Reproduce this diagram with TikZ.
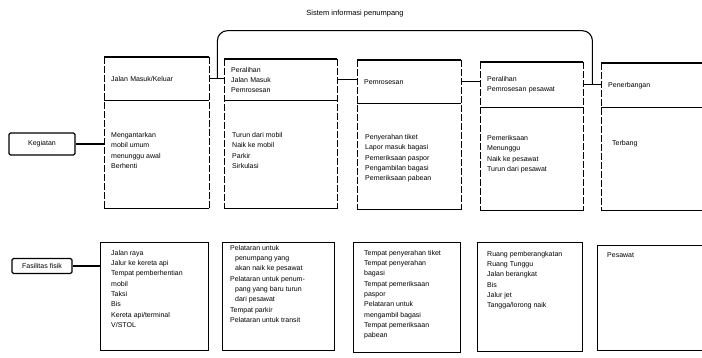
\documentclass[tikz,border=0pt]{standalone}
\usepackage{fontspec}
\setmainfont{Liberation Sans}
\usetikzlibrary{positioning}
\tikzset{
  header/.style={
    % The shape:
    rectangle, anchor=north west,
    % The size:
    inner xsep=7pt, inner ysep=0pt,
    % The text:
    align=left, font=\fontsize{7}{10}\selectfont},
  cell/.style={
    % The shape:
    rectangle, inner sep=0pt},
  footbox/.style={
    % The shape:
    rectangle, anchor=north west, inner sep=0pt,
    % The border:
    draw, line width=1.1pt},
  txt/.style={
    inner sep=0pt, align=left,
    font=\fontsize{7}{10.3}\selectfont},
  tag/.style={
    % The shape:
    rectangle, rounded corners=1.5pt,
    % The border:
    draw, line width=1.1pt,
    % The text:
    inner sep=0pt, font=\fontsize{7}{9}\selectfont}
}

\begin{document}
\begin{tikzpicture}[x=1pt,y=-1pt,
                    rule/.style={line width=1.1pt},
                    side/.style={line width=0.5pt,dash pattern=on 7pt off 2pt},
                    link/.style={line width=1.1pt}]
  \useasboundingbox (0,0) rectangle (702,358);

  \node[txt,font=\fontsize{7.5}{9}\selectfont] (title) at (355,14) {Sistem informasi penumpang};

  % top row: headers and activities
  \node[header, text width=91, minimum height=43] (head1) at (104,57)  {Jalan Masuk/Keluar};
  \node[header, text width=99, minimum height=41] (head2) at (224,59)  {Peralihan\\Jalan Masuk\\Pemrosesan};
  \node[header, text width=90, minimum height=43] (head3) at (357,60)  {Pemrosesan};
  \node[header, text width=89, minimum height=45] (head4) at (480,62)  {Peralihan\\Pemrosesan pesawat};
  \node[header, text width=105,minimum height=44] (head5) at (601,63)  {Penerbangan};

  \node[cell, below=0pt of head1, minimum width=105, minimum height=108] (body1) {};
  \node[cell, below=0pt of head2, minimum width=113, minimum height=108] (body2) {};
  \node[cell, below=0pt of head3, minimum width=104, minimum height=106] (body3) {};
  \node[cell, below=0pt of head4, minimum width=103, minimum height=103] (body4) {};
  \node[cell, below=0pt of head5, minimum width=119, minimum height=103] (body5) {};

  \foreach \c in {1,...,5} {
    \draw[rule] (head\c.north west) -- (head\c.north east);
    \draw[rule] (body\c.north west) -- (body\c.north east);
    \draw[rule] (body\c.south west) -- (body\c.south east);
    \draw[side] (head\c.north west) -- (body\c.south west);
    \draw[side] (head\c.north east) -- (body\c.south east);
  }

  \node[txt, below right=32pt and 7pt of body1.north west] (act1)
    {Mengantarkan\\mobil umum\\menunggu awal\\Berhenti};
  \node[txt, below right=32pt and 8pt of body2.north west] (act2)
    {Turun dari mobil\\Naik ke mobil\\Parkir\\Sirkulasi};
  \node[txt, below right=31pt and 8pt of body3.north west] (act3)
    {Penyerahan tiket\\Lapor masuk bagasi\\Pemeriksaan paspor\\Pengambilan bagasi\\Pemeriksaan pabean};
  \node[txt, below right=28pt and 7pt of body4.north west] (act4)
    {Pemeriksaan\\Menunggu\\Naik ke pesawat\\Turun dari pesawat};
  \node[txt, below right=33pt and 11pt of body5.north west] (act5) {Terbang};

  % bottom row: facilities
  \node[footbox, minimum width=108, minimum height=108] (foot1) at (100,242) {};
  \node[footbox, minimum width=112, minimum height=108] (foot2) at (222,242) {};
  \node[footbox, minimum width=107, minimum height=110] (foot3) at (353,242) {};
  \node[footbox, minimum width=105, minimum height=109] (foot4) at (477,242) {};
  \node[footbox, minimum width=125, minimum height=105] (foot5) at (597,245) {};

  \node[txt, below right=8pt and 11pt of foot1.north west] (fac1)
    {Jalan raya\\Jalur ke kereta api\\Tempat pemberhentian\\mobil\\Taksi\\Bis\\Kereta api/terminal\\V/STOL};
  \node[txt, below right=3pt and 8pt of foot2.north west] (fac2)
    {Pelataran untuk\\\hspace*{5pt}penumpang yang\\\hspace*{5pt}akan naik ke pesawat\\Pelataran untuk penum-\\\hspace*{5pt}pang yang baru turun\\\hspace*{5pt}dari pesawat\\Tempat parkir\\Pelataran untuk transit};
  \node[txt, below right=8pt and 11pt of foot3.north west] (fac3)
    {Tempat penyerahan tiket\\Tempat penyerahan\\bagasi\\Tempat pemeriksaan\\paspor\\Pelataran untuk\\mengambil bagasi\\Tempat pemeriksaan\\pabean};
  \node[txt, below right=9pt and 10pt of foot4.north west] (fac4)
    {Ruang pemberangkatan\\Ruang Tunggu\\Jalan berangkat\\Bis\\Jalur jet\\Tangga/lorong naik};
  \node[txt, below right=7pt and 10pt of foot5.north west] (fac5) {Pesawat};

  % side labels
  \node[tag, minimum width=66, minimum height=22] (keg) at (42,144) {Kegiatan};
  \node[tag, minimum width=60, minimum height=15] (fas) at (42,266) {Fasilitas fisik};

  % connectors
  \draw[link] (keg.east) -- (keg.east -| body1.west);
  \draw[link] (fas.east) -- (fas.east -| foot1.west);
  \foreach \a/\b in {1/2,2/3,3/4,4/5}
    \draw[link] (head\a.east) -- (head\a.east -| head\b.west);

  \coordinate[right=8pt of head1.east] (jl);
  \coordinate[right=9pt of head4.east] (jr);
  \draw[link, rounded corners=10pt] (jl) -- ++(0,-48) -| (jr);
\end{tikzpicture}
\end{document}
